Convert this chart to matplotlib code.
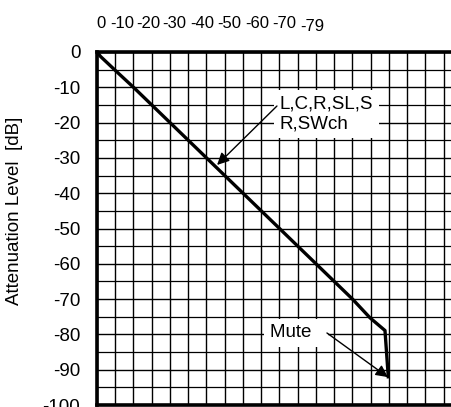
import matplotlib
matplotlib.use("Agg")
import matplotlib.pyplot as plt
import matplotlib.transforms as mtransforms
from matplotlib.ticker import MultipleLocator

plt.rcParams['font.family'] = ['Liberation Sans', 'DejaVu Sans']

# Data (volume step vs attenuation, dB)
volume_x = [0, 1, 5, 10, 20, 30, 40, 50, 60, 70, 74.8, 78.9, 79.8]
atten_db = [0, -1.3, -5.2, -10, -20, -30, -40, -50, -60, -70, -75.3, -78.9, -92]
y_ticks = [0, -10, -20, -30, -40, -50, -60, -70, -80, -90, -100]
top_labels = ['0', '-10', '-20', '-30', '-40', '-50', '-60', '-70', '-79']
top_label_pos = [1.0, 7.0, 14.0, 21.2, 28.7, 36.1, 43.9, 51.2, 59.1]
label_main = "L,C,R,SL,S\nR,SWch"
label_mute = "Mute  "

fig = plt.figure(figsize=(4.52, 4.07), dpi=100)
W, H = 452, 407
left, right, top, bottom = 97, 462, 52, 405
ax = fig.add_axes([left / W, 1 - bottom / H, (right - left) / W, (bottom - top) / H])

ax.set_xlim(0, 100)
ax.set_ylim(-100, 0)

ax.xaxis.set_major_locator(MultipleLocator(5))
ax.yaxis.set_minor_locator(MultipleLocator(5))
ax.grid(True, which='major', color='black', linewidth=1.0)
ax.grid(True, which='minor', axis='y', color='black', linewidth=0.9)
ax.set_axisbelow(True)

ax.set_yticks(y_ticks)
ax.set_yticklabels([str(v) for v in y_ticks], fontsize=13.5)
ax.tick_params(axis='y', length=0, pad=12)
ax.tick_params(axis='x', bottom=False, labelbottom=False, length=0)
ax.tick_params(axis='y', which='minor', length=0)

for s in ['left', 'top', 'bottom']:
    ax.spines[s].set_linewidth(2.6)
ax.spines['right'].set_visible(False)

ax.plot(volume_x, atten_db, color='black', linewidth=2.4, zorder=3, solid_joinstyle='round')

# top labels
sec = ax.secondary_xaxis('top')
sec.set_xticks(top_label_pos)
sec.set_xticklabels(top_labels, fontsize=12)
sec.tick_params(length=0, pad=15)
sec.spines['top'].set_visible(False)
last = sec.get_xticklabels()[-1]
last.set_transform(last.get_transform() +
                   mtransforms.ScaledTranslation(0, -2 / 72, fig.dpi_scale_trans))

ax.set_ylabel("Attenuation Level  [dB]", fontsize=13.5, ha='center', va='center')
ax.yaxis.set_label_coords(-0.225, 0.55)

# annotations
ax.text(50.1, -17.6, label_main, fontsize=13.5, ha='left', va='center',
        linespacing=1.2, zorder=4,
        bbox=dict(boxstyle='square,pad=0.3', fc='white', ec='none'))
ax.annotate('', xy=(32.9, -32), xytext=(49.3, -15.3),
            arrowprops=dict(arrowstyle='-|>', color='black', lw=1.0,
                            mutation_scale=18, shrinkA=0, shrinkB=0),
            zorder=5)
ax.text(47.4, -79.6, label_mute, fontsize=13.5, ha='left', va='center', zorder=4,
        bbox=dict(boxstyle='square,pad=0.3', fc='white', ec='none'))
ax.annotate('', xy=(79.7, -92.1), xytext=(63.0, -79.6),
            arrowprops=dict(arrowstyle='-|>', color='black', lw=1.0,
                            mutation_scale=18, shrinkA=0, shrinkB=0),
            zorder=5)

fig.savefig("out.png", dpi=100)
